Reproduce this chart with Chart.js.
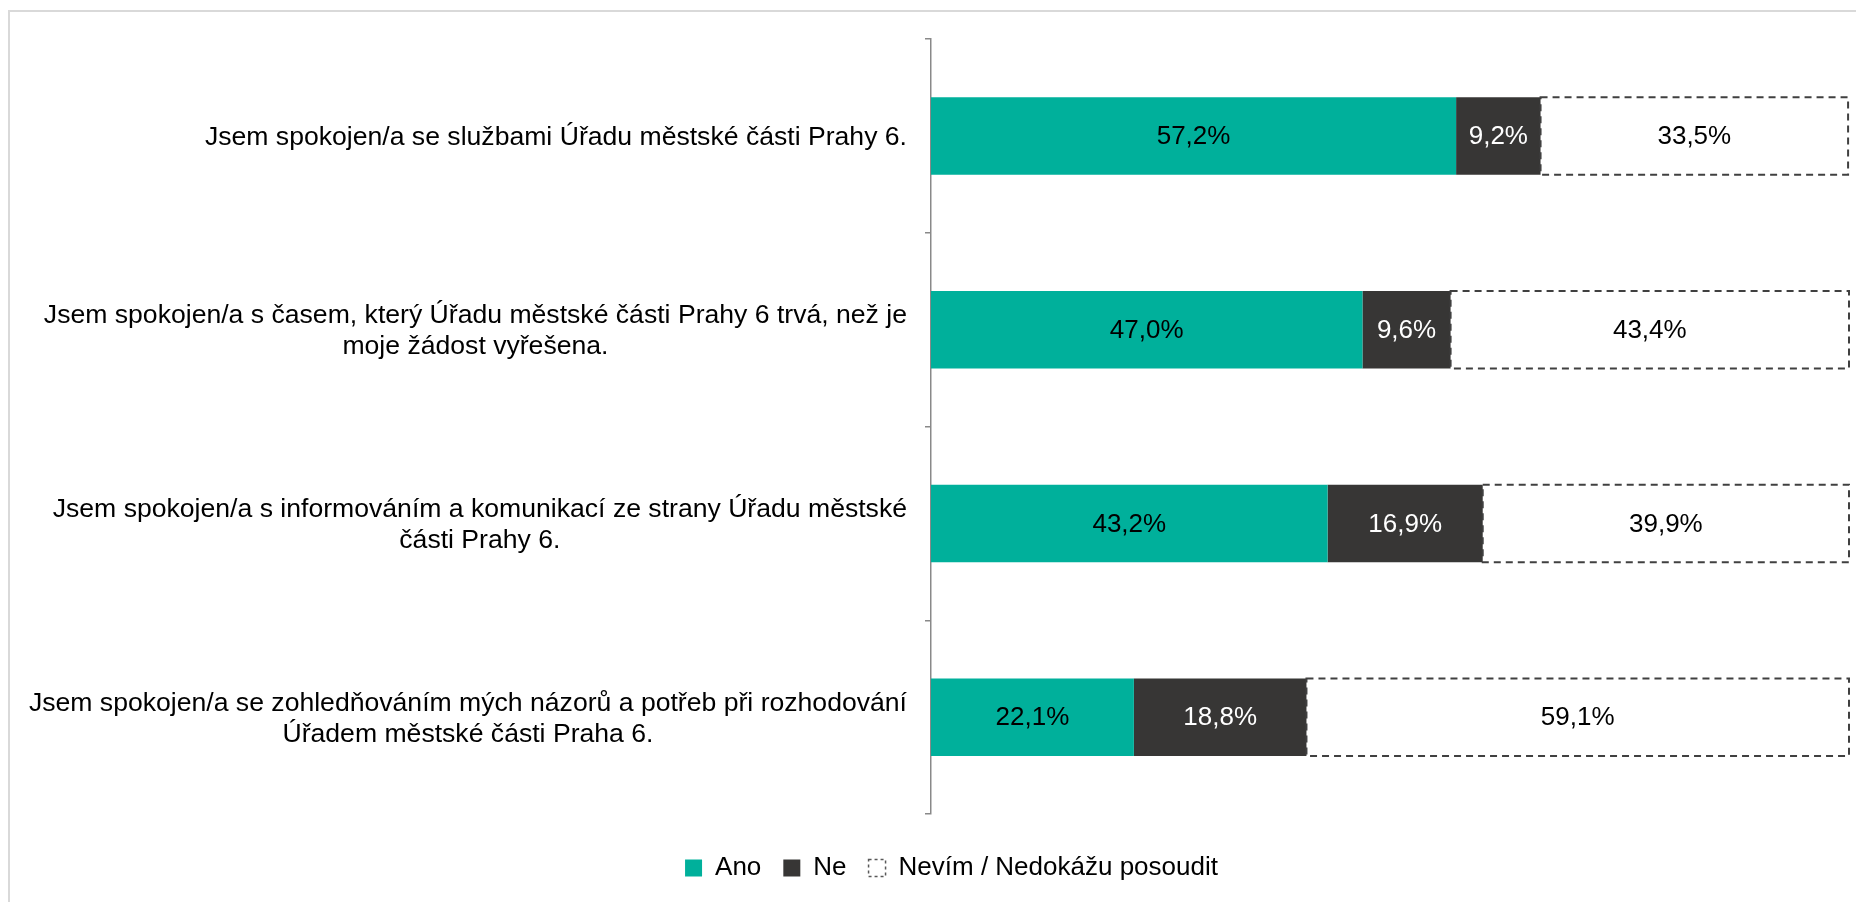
<!DOCTYPE html>
<html>
<head>
<meta charset="utf-8">
<script src="https://cdn.jsdelivr.net/npm/chart.js@4/dist/chart.umd.min.js"></script>
<style>
  body { margin: 0; background: #ffffff; }
  .frame {
    position: absolute; left: 8px; top: 10px; width: 1900px; height: 1000px;
    border-top: 2px solid #d9d9d9; border-left: 2px solid #d9d9d9;
  }
  .chart-box { position: absolute; left: 0; top: 0; width: 1856px; height: 902px; }
</style>
</head>
<body>
<div class="frame"></div>
<div class="chart-box"><canvas id="satisfaction-chart"></canvas></div>
<script>
const categories = [
  ["Jsem spokojen/a se službami Úřadu městské části Prahy 6."],
  ["Jsem spokojen/a s časem, který Úřadu městské části Prahy 6 trvá, než je", "moje žádost vyřešena."],
  ["Jsem spokojen/a s informováním a komunikací ze strany Úřadu městské", "části Prahy 6."],
  ["Jsem spokojen/a se zohledňováním mých názorů a potřeb při rozhodování", "Úřadem městské části Praha 6."]
]
const seriesNames = ["Ano", "Ne", "Nevím / Nedokážu posoudit"]
const anoValues = [57.2, 47.0, 43.2, 22.1]
const neValues = [9.2, 9.6, 16.9, 18.8]
const nevimValues = [33.5, 43.4, 39.9, 59.1]

const fontFamily = '"Liberation Sans", Arial, sans-serif'

// category labels: block right aligned next to the axis, lines centred inside the block
const categoryLabels = {
  id: 'categoryLabels',
  afterDraw(chart) {
    const ctx = chart.ctx
    const yScale = chart.scales.y
    const rightEdge = chart.chartArea.left - 24
    const lineHeight = 31
    ctx.save()
    ctx.font = '26.6px ' + fontFamily
    ctx.fillStyle = '#000000'
    ctx.textAlign = 'center'
    ctx.textBaseline = 'middle'
    categories.forEach((lines, i) => {
      const yPix = yScale.getPixelForTick(i) + 2
      const blockWidth = Math.max(...lines.map(l => ctx.measureText(l).width))
      const cx = rightEdge - blockWidth / 2
      const y0 = yPix - (lines.length - 1) * lineHeight / 2
      lines.forEach((line, j) => ctx.fillText(line, cx, y0 + j * lineHeight))
    })
    ctx.restore()
  }
}

// dashed outline for the "Nevím" bars and the value labels
const barExtras = {
  id: 'barExtras',
  afterDatasetsDraw(chart) {
    const ctx = chart.ctx
    ctx.save()
    const dashedMeta = chart.getDatasetMeta(2)
    ctx.strokeStyle = '#404040'
    ctx.lineWidth = 2
    ctx.setLineDash([7, 5])
    dashedMeta.data.forEach(bar => {
      const p = bar.getProps(['x', 'y', 'base', 'height'], true)
      ctx.strokeRect(p.base, p.y - p.height / 2, p.x - p.base, p.height)
    })
    ctx.setLineDash([])

    ctx.font = '26px ' + fontFamily
    ctx.textAlign = 'center'
    ctx.textBaseline = 'middle'
    chart.data.datasets.forEach((dataset, d) => {
      const meta = chart.getDatasetMeta(d)
      ctx.fillStyle = d === 1 ? '#ffffff' : '#000000'
      meta.data.forEach((bar, i) => {
        const p = bar.getProps(['x', 'y', 'base'], true)
        const text = dataset.data[i].toFixed(1).replace('.', ',') + '%'
        ctx.fillText(text, (p.x + p.base) / 2, p.y + 1)
      })
    })
    ctx.restore()
  }
}

const ctx = document.getElementById('satisfaction-chart')
const chart = new Chart(ctx, {
  type: 'bar',
  data: {
    labels: categories,
    datasets: [
      { label: seriesNames[0], data: anoValues, backgroundColor: '#00b09b' },
      { label: seriesNames[1], data: neValues, backgroundColor: '#373635' },
      { label: seriesNames[2], data: nevimValues, backgroundColor: '#ffffff' }
    ]
  },
  options: {
    indexAxis: 'y',
    responsive: true,
    maintainAspectRatio: false,
    animation: false,
    categoryPercentage: 1,
    barPercentage: 0.4,
    layout: { padding: { top: 39, left: 54, right: 7, bottom: 11 } },
    scales: {
      x: {
        stacked: true,
        min: 0,
        max: 100,
        grid: { display: false },
        border: { display: false },
        ticks: { display: false },
        afterFit(scale) { scale.height = 19 }
      },
      y: {
        stacked: true,
        grid: { display: true, drawOnChartArea: false, drawTicks: true, tickLength: 6, color: '#898989', lineWidth: 1.5, offset: true },
        border: { display: true, color: '#898989', width: 1.5 },
        ticks: { display: false },
        afterFit(scale) { scale.width = 877 }
      }
    },
    plugins: {
      tooltip: { enabled: false },
      legend: {
        position: 'bottom',
        labels: {
          font: { size: 26, family: fontFamily },
          color: '#000000',
          boxWidth: 17,
          boxHeight: 17,
          padding: 22,
          generateLabels(chart) {
            const items = Chart.defaults.plugins.legend.labels.generateLabels(chart)
            items.forEach((item, i) => {
              item.lineWidth = 0
              if (i === 2) {
                item.fillStyle = '#ffffff'
                item.strokeStyle = '#595959'
                item.lineWidth = 1.5
                item.lineDash = [3, 3]
              }
            })
            return items
          }
        }
      }
    }
  },
  plugins: [categoryLabels, barExtras]
})
</script>
</body>
</html>
